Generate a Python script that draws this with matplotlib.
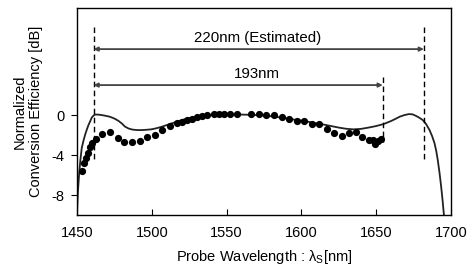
import matplotlib
matplotlib.use("Agg")
import matplotlib.pyplot as plt

plt.rcParams["font.family"] = ["Liberation Sans", "DejaVu Sans"]

# measured conversion efficiency (dots)
meas_wl = [1453.1, 1454.9, 1456.0, 1457.1, 1458.7, 1460.2, 1462.5, 1466.8, 1472.2,
           1477.2, 1481.6, 1486.7, 1491.9, 1497.1, 1502.1, 1506.8, 1512.3, 1516.6,
           1519.9, 1523.3, 1526.8, 1530.5, 1533.8, 1537.0, 1541.3, 1545.0, 1548.4,
           1552.2, 1556.8, 1566.2, 1571.5, 1576.7, 1582.0, 1586.8, 1592.0, 1596.8,
           1602.0, 1607.1, 1612.0, 1617.0, 1622.1, 1627.3, 1632.2, 1636.8, 1640.9,
           1645.5, 1648.0, 1649.3, 1651.5, 1653.5]
meas_db = [-5.6, -4.8, -4.3, -3.8, -3.2, -2.8, -2.4, -1.9, -1.65,
           -2.25, -2.65, -2.65, -2.6, -2.15, -1.95, -1.5, -1.05, -0.8,
           -0.65, -0.5, -0.35, -0.22, -0.1, 0.05, 0.15, 0.15, 0.15,
           0.15, 0.15, 0.15, 0.15, 0.05, 0.0, -0.17, -0.43, -0.62,
           -0.57, -0.87, -0.87, -1.38, -1.78, -2.08, -1.77, -1.67, -2.2,
           -2.5, -2.5, -2.9, -2.6, -2.35]

# calculated curve (solid line)
calc_wl = [1449.8, 1450.5, 1451.3, 1452.2, 1453.1, 1454.2, 1455.3, 1456.5, 1457.6,
           1458.8, 1459.8, 1461.0, 1462.0, 1464.0, 1466.5, 1469.0, 1472.0, 1475.0,
           1477.6, 1480.0, 1482.0, 1484.5, 1487.0, 1490.0, 1493.2, 1496.5, 1500.0,
           1503.5, 1506.6, 1510.0, 1513.3, 1517.0, 1520.0, 1525.0, 1530.0, 1535.0,
           1540.0, 1545.0, 1550.0, 1555.0, 1560.0, 1565.0, 1570.0, 1575.0, 1580.0,
           1585.0, 1590.0, 1595.0, 1600.0, 1605.0, 1610.0, 1615.0, 1620.0, 1625.0,
           1630.0, 1635.0, 1640.0, 1645.0, 1650.0, 1655.0, 1660.0, 1663.0, 1666.0,
           1669.0, 1672.0, 1674.5, 1677.0, 1679.0, 1681.3, 1683.5, 1685.8, 1687.5,
           1689.1, 1690.3, 1691.3, 1692.5, 1693.6, 1694.5, 1695.3, 1696.0]
calc_db = [-10.5, -7.8, -6.0, -4.5, -3.3, -2.6, -2.0, -1.45, -1.0,
           -0.6, -0.25, -0.05, 0.05, 0.05, 0.0, -0.07, -0.17, -0.35,
           -0.57, -0.85, -1.15, -1.35, -1.45, -1.5, -1.5, -1.47, -1.42,
           -1.3, -1.17, -1.0, -0.83, -0.65, -0.5, -0.3, -0.17, -0.07,
           0.0, 0.03, 0.05, 0.05, 0.05, 0.03, 0.0, -0.05, -0.12,
           -0.22, -0.33, -0.45, -0.55, -0.68, -0.82, -0.95, -1.1, -1.25,
           -1.37, -1.43, -1.38, -1.25, -1.1, -0.9, -0.6, -0.38, -0.15,
           0.0, 0.1, 0.07, -0.1, -0.27, -0.5, -0.9, -1.5, -2.1,
           -2.8, -3.6, -4.5, -5.8, -7.2, -8.5, -9.8, -11.0]

# bandwidth markers
edge_left = 1461.0
edge_meas = 1654.5
edge_est = 1682.0
x_ticks = [1450, 1500, 1550, 1600, 1650, 1700]
y_ticks = [0, -4, -8]

fig = plt.figure(figsize=(4.73, 2.8), dpi=100)
ax = fig.add_axes([0.163, 0.232, 0.79, 0.739])

ax.plot(calc_wl, calc_db, color="#222222", lw=1.3, zorder=2)
ax.plot(meas_wl, meas_db, "o", color="black", ms=5.2, mec="none", zorder=3)

dash = dict(color="black", lw=1.0, ls=(0, (4, 2.5)))
ax.plot([edge_left, edge_left], [8.8, -4.7], **dash)
ax.plot([edge_est, edge_est], [8.8, -4.7], **dash)
ax.plot([edge_meas, edge_meas], [3.8, -2.7], **dash)

arrow = dict(arrowstyle="<|-|>", color="#444444", lw=1.3,
             mutation_scale=6, shrinkA=0, shrinkB=0)
ax.annotate("", xy=(edge_left, 6.6), xytext=(edge_est, 6.6), arrowprops=arrow)
ax.annotate("", xy=(edge_left, 3.0), xytext=(edge_meas, 3.0), arrowprops=arrow)
ax.text(1571, 7.75, "220nm (Estimated)", ha="center", va="center", fontsize=10.8)
ax.text(1570, 4.15, "193nm", ha="center", va="center", fontsize=10.8)

ax.set_xlim(1450, 1700)
ax.set_ylim(-10, 10.7)
ax.set_xticks(x_ticks)
ax.set_yticks(y_ticks)
ax.tick_params(axis="x", direction="in", length=4, labelsize=10.5, pad=8)
ax.tick_params(axis="y", direction="out", length=4, labelsize=10.5, pad=5)
ax.set_yticklabels([str(v) for v in y_ticks])

ax.set_xlabel(r"Probe Wavelength : $\mathregular{\lambda_S}$[nm]", fontsize=10.5, labelpad=6)
ax.set_ylabel("Normalized\nConversion Efficiency [dB]", fontsize=10.5,
              linespacing=1.2, labelpad=6)

for sp in ax.spines.values():
    sp.set_linewidth(1.0)

fig.savefig("out.png", dpi=100)
